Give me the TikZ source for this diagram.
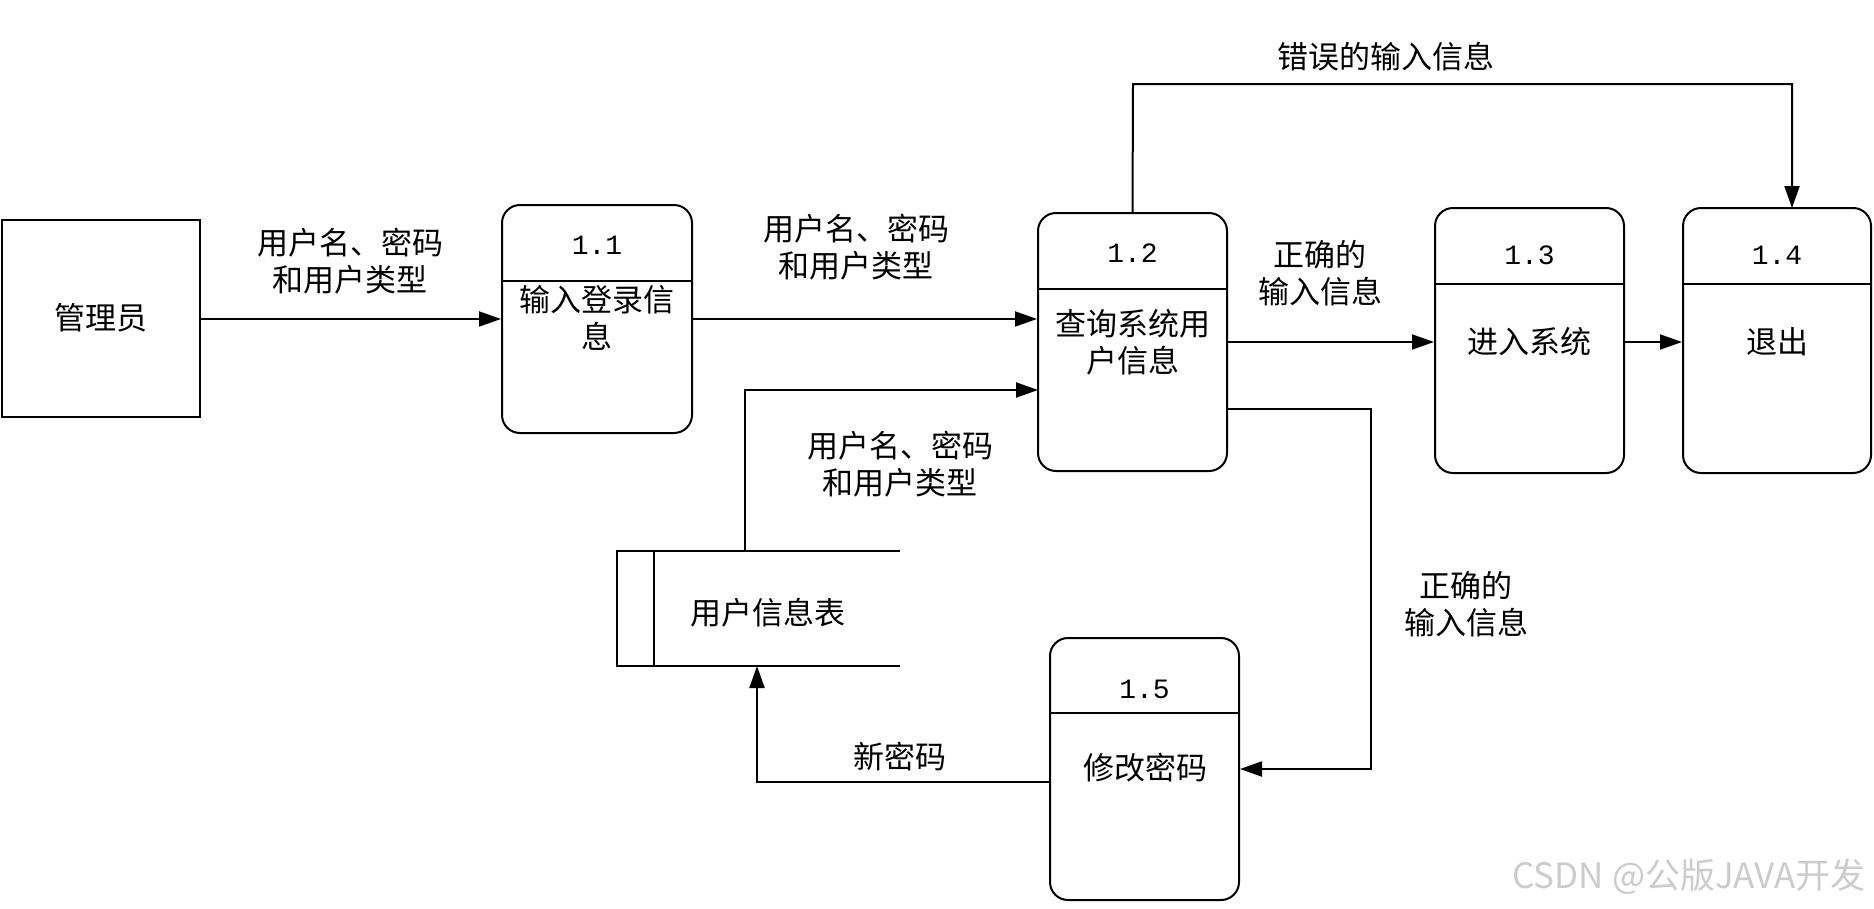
\documentclass[tikz,border=0pt]{standalone}
\usepackage{fontspec}
\setmainfont{Noto Sans CJK SC}
\newfontfamily\cjk{Noto Sans CJK SC}
\newfontfamily\numfont{Liberation Mono}
\usetikzlibrary{arrows.meta}
\begin{document}
\begin{tikzpicture}[x=1pt,y=-1pt,
  box/.style={draw, line width=2pt, rectangle, inner sep=0pt},
  procbox/.style={box, rounded corners=18pt},
  lbl/.style={font=\cjk\fontsize{31}{37}\selectfont, align=center, inner sep=0pt},
  num/.style={font=\numfont\fontsize{28}{30}\selectfont, inner sep=0pt},
  arr/.style={line width=2pt, -{Triangle[length=22pt,width=15pt]}},
  ln/.style={line width=2pt}]
\useasboundingbox[fill=white] (0,0) rectangle (1874,908);

% external entity
\node[box, minimum width=198pt, minimum height=197pt] (admin) at (101,318.5) {};
\node[lbl] (tadmin) at (101,318) {管理员};

% processes
\node[procbox, minimum width=190pt, minimum height=228pt] (p11) at (597,319) {};
\node[procbox, minimum width=189pt, minimum height=258pt] (p12) at (1132.5,342) {};
\node[procbox, minimum width=189pt, minimum height=265pt] (p13) at (1529.5,340.5) {};
\node[procbox, minimum width=188pt, minimum height=265pt] (p14) at (1777,340.5) {};
\node[procbox, minimum width=189pt, minimum height=262pt] (p15) at (1144.5,769) {};

% dividers
\draw[ln] ([yshift=38pt]p11.west) -- ([yshift=38pt]p11.east);
\draw[ln] ([yshift=53pt]p12.west) -- ([yshift=53pt]p12.east);
\draw[ln] ([yshift=56.5pt]p13.west) -- ([yshift=56.5pt]p13.east);
\draw[ln] ([yshift=56.5pt]p14.west) -- ([yshift=56.5pt]p14.east);
\draw[ln] ([yshift=56pt]p15.west) -- ([yshift=56pt]p15.east);

% process texts
\node[num] (n11) at (597,245) {1.1};
\node[lbl] (t11) at (597,318) {输入登录信\\息};
\node[num] (n12) at (1132.5,253) {1.2};
\node[lbl] (t12) at (1132.5,342) {查询系统用\\户信息};
\node[num] (n13) at (1529.5,255) {1.3};
\node[lbl] (t13) at (1529.5,342) {进入系统};
\node[num] (n14) at (1777,255) {1.4};
\node[lbl] (t14) at (1777,342) {退出};
\node[num] (n15) at (1144.5,689) {1.5};
\node[lbl] (t15) at (1145,768) {修改密码};

% data store
\node[inner sep=0pt, minimum width=283pt, minimum height=115pt] (store) at (758.5,608.5) {};
\draw[ln] (store.north east) -- (store.north west) -- (store.south west) -- (store.south east);
\draw[ln] ([xshift=37pt]store.north west) -- ([xshift=37pt]store.south west);
\node[lbl] (tstore) at (768,613) {用户信息表};

% connectors
\draw[arr] (admin.east |- p11.west) -- (p11.west);
\draw[arr] (p11.east) -- (p12.west |- p11.east);
\draw[arr] (p12.east) -- (p13.west |- p12.east);
\draw[arr] (p13.east |- p12.east) -- (p14.west |- p12.east);

\coordinate (s1) at (745,551);
\coordinate (e12in) at (1038,390);
\draw[arr] (s1) |- (e12in);

\coordinate (k1) at (1371,409);
\draw[arr] (p12.east |- k1) -- (k1) |- (p15.east);

\coordinate (s2) at (757,666);
\coordinate (k2) at (1050,782);
\draw[arr] (k2) -| (s2);

\coordinate (top1) at (1133,84);
\coordinate (t14in) at (1792,208);
\draw[arr] (p12.north) -- (top1) -| (t14in);

% flow labels
\node[lbl] (l1) at (350,261.5) {用户名、密码\\和用户类型};
\node[lbl] (l2) at (856,247.5) {用户名、密码\\和用户类型};
\node[lbl] (l3) at (900,464) {用户名、密码\\和用户类型};
\node[lbl] (l4) at (1320,273.5) {正确的\\输入信息};
\node[lbl] (l5) at (1386,57) {错误的输入信息};
\node[lbl] (l6) at (1466,604.5) {正确的\\输入信息};
\node[lbl] (l7) at (900,757) {新密码};

% watermark
\node[font=\cjk\fontsize{35}{38}\selectfont, text=black!20, inner sep=0pt] (wm) at (1689,877) {CSDN @公版JAVA开发};
\end{tikzpicture}
\end{document}
